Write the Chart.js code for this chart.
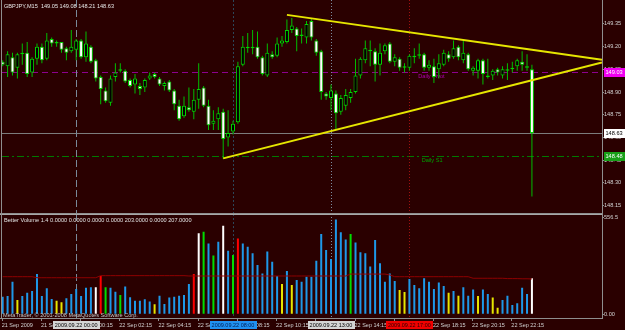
<!DOCTYPE html>
<html><head><meta charset="utf-8">
<script src="https://cdn.jsdelivr.net/npm/chart.js"></script>
<style>
html,body{margin:0;padding:0;background:#2A0000;overflow:hidden;}
#wrap{position:relative;width:625px;height:330px;background:#2A0000;}
canvas{position:absolute;left:0;display:block;}
#c1{top:0;}
#c2{top:214px;}
</style></head><body>
<div id="wrap"><canvas id="c1" width="625" height="214"></canvas><canvas id="c2" width="625" height="116"></canvas></div>
<script>
// ---------------- DATA ----------------
const symbolTitle = "GBPJPY,M15";
const opens = [149.10,149.07,149.13,149.06,149.16,149.16,149.03,149.12,149.20,149.12,
149.25,149.23,149.23,149.19,149.17,149.18,149.24,149.13,149.20,149.11,
149.00,148.91,148.83,149.00,149.05,149.04,148.98,148.95,148.94,148.93,
148.99,149.02,148.99,148.94,148.97,148.91,148.81,148.74,148.80,148.77,
148.85,148.93,148.81,148.69,148.72,148.77,148.60,148.64,148.70,149.08,
149.20,149.19,149.20,149.13,149.01,149.15,149.14,149.22,149.23,149.31,
149.32,149.28,149.26,149.37,149.24,149.17,148.89,148.86,148.89,148.77,
148.81,148.86,148.90,149.01,149.11,149.18,149.17,149.08,149.17,149.22,
149.10,149.12,149.07,149.06,149.13,149.14,149.15,149.06,149.07,149.05,
149.08,149.15,149.13,149.20,149.11,149.15,149.04,149.04,149.11,149.00,
149.01,149.05,149.01,149.04,149.05,149.07,149.10,149.06,149.05];
const highs = [149.11,149.17,149.16,149.16,149.22,149.23,149.13,149.22,149.22,149.29,
149.26,149.24,149.23,149.20,149.31,149.25,149.25,149.30,149.21,149.12,
149.01,148.93,149.01,149.09,149.09,149.05,148.99,149.02,148.96,148.99,
149.03,149.03,149.00,148.97,148.98,148.92,148.85,148.87,148.93,148.92,
149.09,148.94,148.85,148.78,148.80,148.79,148.78,148.71,149.10,149.27,
149.29,149.31,149.30,149.14,149.22,149.17,149.26,149.27,149.38,149.39,
149.33,149.32,149.37,149.39,149.25,149.18,148.90,148.95,148.91,148.88,
148.92,148.92,149.12,149.13,149.24,149.24,149.19,149.22,149.22,149.23,
149.15,149.13,149.09,149.15,149.19,149.22,149.16,149.11,149.12,149.15,
149.18,149.17,149.24,149.21,149.24,149.16,149.07,149.12,149.12,149.12,
149.05,149.06,149.07,149.09,149.10,149.12,149.17,149.15,149.08];
const lows = [149.07,149.00,149.01,148.99,149.08,149.00,149.00,149.08,149.09,149.11,
149.20,149.20,149.16,149.11,149.16,149.11,149.12,149.10,149.09,148.97,
148.82,148.83,148.81,148.97,149.03,148.96,148.93,148.89,148.88,148.90,
148.98,148.99,148.94,148.91,148.90,148.78,148.71,148.73,148.77,148.72,
148.79,148.80,148.65,148.65,148.65,148.46,148.54,148.62,148.69,149.07,
149.16,149.15,149.12,149.01,149.00,149.12,149.13,149.20,149.22,149.29,
149.17,149.22,149.22,149.24,149.14,148.85,148.85,148.78,148.65,148.75,
148.78,148.83,148.89,148.99,149.09,149.07,148.97,149.01,149.15,149.09,
149.07,149.04,149.03,149.04,149.09,149.12,149.04,149.04,148.96,148.99,
149.07,149.10,149.12,149.11,149.09,149.04,149.01,148.99,148.95,148.99,
148.98,149.01,148.99,148.98,149.03,149.04,149.04,149.04,148.21];
const closes = [149.08,149.15,149.03,149.15,149.15,149.02,149.12,149.20,149.11,149.24,
149.22,149.22,149.18,149.16,149.20,149.24,149.13,149.22,149.10,148.99,
148.92,148.84,148.99,149.03,149.04,148.97,148.94,148.99,148.92,148.98,
149.01,149.00,148.95,148.96,148.91,148.82,148.72,148.81,148.78,148.85,
148.92,148.81,148.68,148.71,148.76,148.59,148.63,148.69,149.07,149.20,
149.19,149.20,149.13,149.02,149.16,149.13,149.22,149.24,149.31,149.34,
149.27,149.27,149.35,149.26,149.16,148.90,148.87,148.91,148.76,148.86,
148.88,148.90,149.01,149.12,149.19,149.17,149.08,149.16,149.21,149.10,
149.13,149.06,149.06,149.14,149.14,149.15,149.06,149.08,149.00,149.09,
149.16,149.12,149.19,149.13,149.16,149.05,149.06,149.11,149.02,149.01,
149.04,149.03,149.05,149.05,149.06,149.11,149.08,149.07,148.63];

const volumes = [101,105,187,82,105,124,134,231,105,149,
88,78,69,92,117,145,105,153,155,155,
220,155,153,130,111,159,98,78,78,86,
73,57,107,59,96,101,107,111,174,231,
465,474,407,337,417,509,365,341,436,407,
388,350,283,235,360,302,220,174,249,168,
197,187,216,216,308,461,369,318,545,471,
430,461,413,356,350,274,427,293,187,235,
191,140,128,203,168,149,207,187,145,182,
163,124,134,107,155,107,143,105,143,117,
96,38,82,107,54,63,153,117,207];
// N normal, LV low volume, CU climax up, CD climax down, HC high churn
const volumeTypes = ["N","N","N","LV","N","N","N","N","N","N",
"N","LV","LV","N","N","N","N","N","N","CD",
"CU","HC","N","N","HC","N","N","N","N","N",
"N","LV","N","N","N","N","N","N","N","CU",
"CD","HC","N","HC","N","CD","N","HC","CU","N",
"N","N","N","N","N","N","N","LV","N","LV",
"N","N","N","N","N","N","N","N","N","N",
"N","HC","N","N","N","N","N","N","N","N",
"N","LV","LV","N","N","N","N","N","N","N",
"N","LV","N","LV","N","N","N","LV","N","N",
"LV","LV","N","N","N","N","N","N","CD"];
const volumeAverage = [216,216,216,216,216,216,216,210,210,210,
210,210,210,210,210,210,210,210,210,210,
222,222,222,222,222,222,222,222,222,222,
222,222,222,222,222,222,222,222,220,220,
220,220,220,220,220,220,220,220,220,220,
220,220,220,220,220,220,220,220,220,220,
220,220,220,220,220,220,220,220,220,220,
220,231,231,231,231,231,231,231,231,226,
216,216,216,216,216,216,216,216,216,216,
216,216,216,216,216,216,207,207,207,207,
207,207,207,205,205,205,204,204,203];

const priceTicks = [148.15,148.30,148.45,148.60,148.75,148.90,149.05,149.20,149.35];
const volumeTicks = [0,556.5];
const volumeTickLabels = ["0.00","556.5"];
const timeTickBars = [0,8,16,24,32,40,48,56,64,72,80,88,96,104];
const timeTickLabels = ["21 Sep 2009","21 Sep 22:15","22 Sep 00:15","22 Sep 02:15","22 Sep 04:15","22 Sep 06:15","22 Sep 08:15","22 Sep 10:15","22 Sep 12:15","22 Sep 14:15","22 Sep 16:15","22 Sep 18:15","22 Sep 20:15","22 Sep 22:15"];
const separatorBars = [15,47,67,83];
const separatorLabels = ["2009.09.22 00:00","2009.09.22 08:00","2009.09.22 13:00","2009.09.22 17:00"];
const levelNames = ["Daily Pivot","Daily S1"];
const levelPrices = [149.03,148.48];
const bidPrice = 148.63;
const upperTrendBars = [58,108], upperTrendPrices = [149.41,149.18];
const lowerTrendBars = [45,108], lowerTrendPrices = [148.462,148.978];
const volumeHeader = "Better Volume 1.4 0.0000 0.0000 0.0000 0.0000 203.0000 0.0000 207.0000";
const copyrightText = "MetaTrader, \u00A9 2001-2008 MetaQuotes Software Corp.";

// ---------------- STYLE ----------------
const BG = '#2A0000', FRAME = '#8E8E8E', AXIS_TEXT = '#D2D2D2';
const FONT = "'Liberation Sans', Arial, sans-serif";
const X_MIN = -0.14, X_MAX = 122.3;
const sepStyles = [
  {color:'#7A8A9A', dash:[7,3]},
  {color:'#2C4658', dash:[2,2]},
  {color:'#7C8CA0', dash:[1,2]},
  {color:'#A01010', dash:[1,2]}
];
const sepBoxStyles = [
  {bg:'#D4D4D4', fg:'#000000'},
  {bg:'#2090F0', fg:'#00205A'},
  {bg:'#D4D4D4', fg:'#000000'},
  {bg:'#F00000', fg:'#300000'}
];
const levelStyles = [
  {color:'#8E008E', dash:[6,4], text:'#B000B0', tagBg:'#F000F0', tagFg:'#FFFFFF'},
  {color:'#007A00', dash:[7,3,2,3], text:'#00A000', tagBg:'#18A018', tagFg:'#FFFFFF'}
];
const levelTextBars = [84.8, 85.5];
const volColors = {N:'#1E98E8', LV:'#E6E600', CU:'#FF0000', CD:'#FFFFFF', HC:'#00DD00'};

Chart.defaults.font.family = FONT;
Chart.defaults.font.size = 5.6;

const idx = opens.map((_, i) => i);
const wickData = idx.map(i => ({x:i, y:[lows[i], highs[i]]}));
const bodyData = idx.map(i => ({x:i, y:[opens[i], closes[i]]}));
const bodyFill = idx.map(i => closes[i] < opens[i] ? '#FFFFFF' : '#000000');
function trendRay(bars, prices){
  const s = (prices[1]-prices[0])/(bars[1]-bars[0]);
  return [{x:bars[0], y:prices[0]}, {x:bars[1], y:prices[1]}, {x:X_MAX, y:prices[0]+s*(X_MAX-bars[0])}];
}
function fixAxis(w){ return function(s){ s.width = w; s.paddingTop = 0; s.paddingBottom = 0; s.paddingLeft = 0; s.paddingRight = 0; }; }

const mainPlugin = {
  id:'mainDecor',
  beforeDraw(c){ const ctx=c.ctx; ctx.save(); ctx.fillStyle=BG; ctx.fillRect(0,0,c.width,c.height); ctx.restore(); },
  beforeDatasetsDraw(c){
    const {ctx, chartArea:a, scales:{x,y}} = c;
    ctx.save();
    ctx.lineWidth = 1;
    let py = Math.round(y.getPixelForValue(bidPrice))+0.5;
    ctx.strokeStyle = '#7C7C7C'; ctx.setLineDash([]);
    ctx.beginPath(); ctx.moveTo(a.left, py); ctx.lineTo(a.right, py); ctx.stroke();
    levelPrices.forEach((p,i)=>{
      const ly = Math.round(y.getPixelForValue(p))+0.5;
      ctx.strokeStyle = levelStyles[i].color; ctx.setLineDash(levelStyles[i].dash);
      ctx.beginPath(); ctx.moveTo(a.left, ly); ctx.lineTo(a.right, ly); ctx.stroke();
      ctx.setLineDash([]);
      ctx.fillStyle = levelStyles[i].text; ctx.font = '5.6px '+FONT;
      ctx.textAlign='left'; ctx.textBaseline='middle';
      ctx.fillText(levelNames[i], x.getPixelForValue(levelTextBars[i]), ly+4);
    });
    separatorBars.forEach((b,i)=>{
      const px = Math.round(x.getPixelForValue(b))+0.5;
      ctx.strokeStyle = sepStyles[i].color; ctx.setLineDash(sepStyles[i].dash);
      ctx.beginPath(); ctx.moveTo(px, 0); ctx.lineTo(px, a.bottom); ctx.stroke();
    });
    ctx.restore();
  },
  afterDraw(c){
    const {ctx, chartArea:a, scales:{y}} = c;
    ctx.save();
    ctx.fillStyle = FRAME;
    ctx.fillRect(1, 0, 1, c.height);
    ctx.fillRect(a.right, 0, 1, c.height);
    ctx.fillRect(0, c.height-1, a.right+1, 1);
    const tags = [
      {p:levelPrices[0], bg:levelStyles[0].tagBg, fg:levelStyles[0].tagFg},
      {p:bidPrice, bg:'#FFFFFF', fg:'#000000'},
      {p:levelPrices[1], bg:levelStyles[1].tagBg, fg:levelStyles[1].tagFg}
    ];
    ctx.font = '5.6px '+FONT; ctx.textAlign='left'; ctx.textBaseline='middle';
    tags.forEach(t=>{
      const ty = y.getPixelForValue(t.p);
      ctx.fillStyle = t.bg; ctx.fillRect(a.right+2, Math.round(ty)-4, 21, 9);
      ctx.fillStyle = t.fg; ctx.fillText(t.p.toFixed(2), a.right+3.5, Math.round(ty)+0.5);
    });
    const n = opens.length-1;
    ctx.fillStyle = '#E6E6E6';
    ctx.fillText(symbolTitle+'  '+opens[n].toFixed(2)+' '+highs[n].toFixed(2)+' '+lows[n].toFixed(2)+' '+closes[n].toFixed(2), 4, 6.5);
    ctx.restore();
  }
};

new Chart(document.getElementById('c1'), {
  type:'bar',
  data:{datasets:[
    {type:'line', data:trendRay(upperTrendBars, upperTrendPrices), borderColor:'#E6E600', borderWidth:2, pointRadius:0, order:0},
    {type:'line', data:trendRay(lowerTrendBars, lowerTrendPrices), borderColor:'#E6E600', borderWidth:2, pointRadius:0, order:0},
    {type:'bar', data:bodyData, backgroundColor:bodyFill, borderColor:'#00D400', borderWidth:1, borderSkipped:false, barThickness:4, grouped:false, minBarLength:1, inflateAmount:0, order:1},
    {type:'bar', data:wickData, backgroundColor:'#00BE00', borderWidth:0, barThickness:1, grouped:false, inflateAmount:0, order:2}
  ]},
  options:{
    responsive:false, devicePixelRatio:1, animation:false,
    layout:{padding:{left:2, top:2, right:0, bottom:1}},
    plugins:{legend:{display:false}, tooltip:{enabled:false}},
    scales:{
      x:{type:'linear', min:X_MIN, max:X_MAX, display:false, offset:false},
      y:{type:'linear', position:'right', min:148.101, max:149.495,
         afterBuildTicks(s){ s.ticks = priceTicks.map(v=>({value:v})); },
         afterFit: fixAxis(23),
         grid:{drawOnChartArea:false, drawTicks:true, tickLength:2, color:FRAME},
         border:{display:true, color:FRAME},
         ticks:{color:AXIS_TEXT, padding:0, font:{size:5.6}, callback:v=>Number(v).toFixed(2)}}
    }
  },
  plugins:[mainPlugin]
});

const volPlugin = {
  id:'volDecor',
  beforeDraw(c){ const ctx=c.ctx; ctx.save(); ctx.fillStyle=BG; ctx.fillRect(0,0,c.width,c.height); ctx.restore(); },
  beforeDatasetsDraw(c){
    const {ctx, scales:{x}} = c;
    ctx.save(); ctx.lineWidth=1;
    separatorBars.forEach((b,i)=>{
      const px = Math.round(x.getPixelForValue(b))+0.5;
      ctx.strokeStyle = sepStyles[i].color; ctx.setLineDash(sepStyles[i].dash);
      ctx.beginPath(); ctx.moveTo(px, 0); ctx.lineTo(px, 104); ctx.stroke();
    });
    ctx.restore();
  },
  afterDatasetsDraw(c){
    const ctx=c.ctx; ctx.save();
    ctx.font='5.6px '+FONT; ctx.textAlign='left'; ctx.textBaseline='middle';
    ctx.fillStyle='#C4C4C4'; ctx.fillText(copyrightText, 3, 101.5);
    ctx.restore();
  },
  afterDraw(c){
    const {ctx, chartArea:a, scales:{x}} = c;
    ctx.save();
    ctx.fillStyle = '#A8A8A8';
    ctx.fillRect(0, 0, a.right+1, 1);
    ctx.fillStyle = FRAME;
    ctx.fillRect(0, 104, a.right+1, 1);
    ctx.fillRect(1, 0, 1, 105);
    ctx.fillRect(a.right, 0, 1, 105);
    ctx.font='5.6px '+FONT; ctx.textAlign='left'; ctx.textBaseline='middle';
    ctx.fillStyle='#E0E0E0'; ctx.fillText(volumeHeader, 4, 6.5);
    // time axis labels + tick marks
    ctx.font='5.5px '+FONT; ctx.textAlign='left'; ctx.textBaseline='middle';
    timeTickBars.forEach((b,i)=>{
      const px = x.getPixelForValue(b);
      ctx.fillStyle = FRAME; ctx.fillRect(Math.round(px)-1, 105, 1, 2);
      ctx.fillStyle = AXIS_TEXT; ctx.fillText(timeTickLabels[i], px-1, 111.5);
    });
    // separator time boxes
    ctx.textAlign='center';
    separatorBars.forEach((b,i)=>{
      const px = x.getPixelForValue(b);
      const w = ctx.measureText(separatorLabels[i]).width + 4;
      ctx.fillStyle = sepBoxStyles[i].bg; ctx.fillRect(Math.round(px - w/2), 107, Math.round(w), 8);
      ctx.fillStyle = sepBoxStyles[i].fg; ctx.fillText(separatorLabels[i], px, 111.5);
    });
    ctx.restore();
  }
};

new Chart(document.getElementById('c2'), {
  type:'bar',
  data:{datasets:[
    {type:'line', data:idx.map(i=>({x:i, y:volumeAverage[i]})), borderColor:'#8E0000', borderWidth:1, pointRadius:0, order:0},
    {type:'bar', data:idx.map(i=>({x:i, y:volumes[i]})), backgroundColor:volumeTypes.map(t=>volColors[t]), borderWidth:0, barThickness:2, grouped:false, inflateAmount:0, order:1}
  ]},
  options:{
    responsive:false, devicePixelRatio:1, animation:false,
    layout:{padding:{left:2, top:3.4, right:0, bottom:0}},
    plugins:{legend:{display:false}, tooltip:{enabled:false}},
    scales:{
      x:{type:'linear', min:X_MIN, max:X_MAX, offset:false, position:'bottom',
         afterBuildTicks(s){ s.ticks = timeTickBars.map(v=>({value:v})); },
         afterFit(s){ s.height = 15.7; s.paddingLeft=0; s.paddingRight=0; s.paddingTop=0; s.paddingBottom=0; },
         grid:{display:false}, border:{display:false},
         ticks:{display:false}},
      y:{type:'linear', position:'right', min:0, max:556.5,
         afterBuildTicks(s){ s.ticks = volumeTicks.map(v=>({value:v})); },
         afterFit: fixAxis(23),
         grid:{drawOnChartArea:false, drawTicks:true, tickLength:2, color:FRAME},
         border:{display:true, color:FRAME},
         ticks:{color:AXIS_TEXT, padding:0, font:{size:5.6}, callback:(v,i)=>volumeTickLabels[i]}}
    }
  },
  plugins:[volPlugin]
});
</script>
</body></html>
